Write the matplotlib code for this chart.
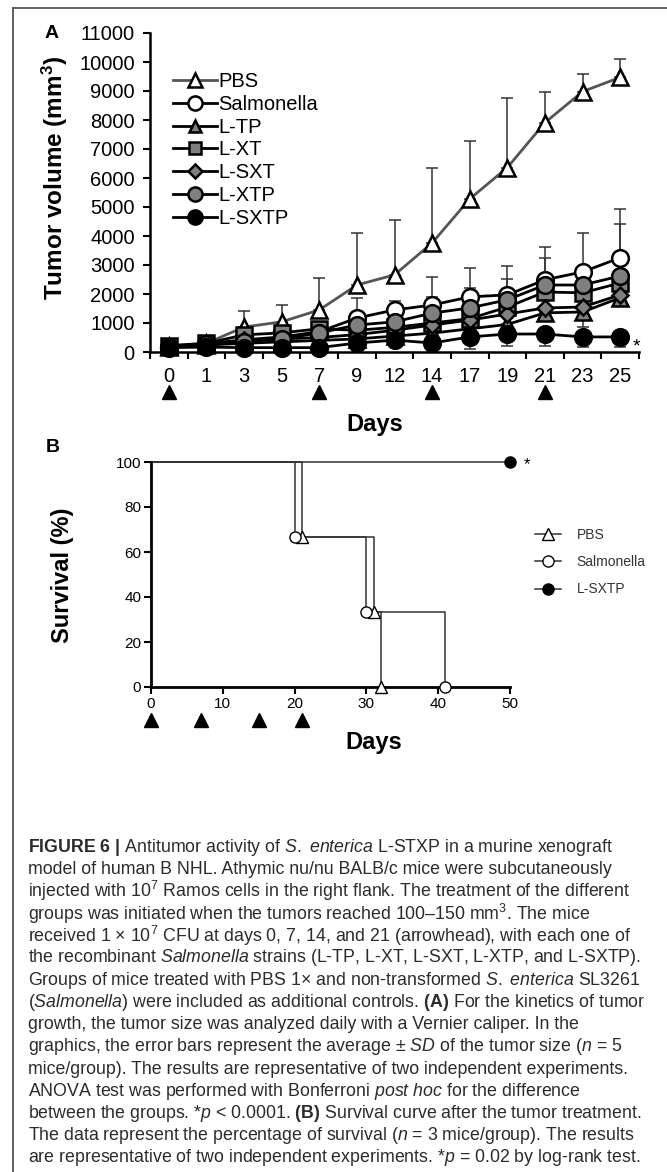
import numpy as np
import matplotlib
matplotlib.use("Agg")
import matplotlib.pyplot as plt
from matplotlib import font_manager
from matplotlib.lines import Line2D
import matplotlib.transforms as mtransforms

# fonts
names = {f.name for f in font_manager.fontManager.ttflist}
SANS = "Liberation Sans"
NARROW = "Liberation Sans Narrow" if "Liberation Sans Narrow" in names else "Liberation Sans"
plt.rcParams["font.family"] = [SANS, "DejaVu Sans"]
plt.rcParams["mathtext.fontset"] = "custom"
plt.rcParams["mathtext.rm"] = NARROW
plt.rcParams["mathtext.it"] = NARROW + ":italic"
plt.rcParams["mathtext.bf"] = NARROW + ":bold"

# ---------------------------------------------------------------------------
# Panel A data: tumor volume (mm3)
days = [0, 1, 3, 5, 7, 9, 12, 14, 17, 19, 21, 23, 25]
treat_days = [0, 7, 14, 21]

pbs = [200, 300, 860, 1040, 1450, 2310, 2660, 3760, 5280, 6360, 7910, 8980, 9470]
pbs_sd = [60, 80, 560, 580, 1110, 1800, 1900, 2600, 2010, 2410, 1070, 590, 620]
salm = [180, 290, 420, 520, 700, 1170, 1450, 1620, 1900, 1970, 2490, 2760, 3250]
salm_sd = [50, 80, 200, 250, 300, 700, 300, 970, 1000, 1000, 1130, 1350, 1690]
ltp = [170, 240, 300, 350, 400, 450, 550, 650, 800, 950, 1350, 1380, 1870]
ltp_sd = [40, 60, 100, 100, 120, 150, 150, 200, 200, 250, 250, 520, 210]
lxt = [220, 300, 590, 660, 800, 750, 850, 1000, 1150, 1550, 2070, 2040, 2380]
lxt_sd = [50, 80, 150, 150, 200, 200, 250, 300, 300, 350, 400, 400, 450]
lsxt = [180, 260, 400, 450, 500, 600, 750, 930, 1100, 1310, 1520, 1550, 1970]
lsxt_sd = [40, 60, 100, 100, 150, 150, 200, 250, 250, 300, 300, 300, 350]
lxtp = [170, 280, 350, 450, 660, 930, 1040, 1340, 1520, 1800, 2310, 2310, 2620]
lxtp_sd = [40, 60, 100, 120, 150, 250, 300, 560, 690, 720, 940, 300, 1800]
lsxtp = [150, 170, 150, 150, 150, 310, 410, 310, 520, 620, 620, 520, 520]
lsxtp_sd = [30, 40, 40, 40, 50, 100, 150, 150, 420, 420, 420, 350, 350]

# Panel B data: survival (%)
pbs_t = [0, 21, 31, 32]
pbs_s = [100, 66.7, 33.3, 0]
salm_t = [0, 20, 30, 41]
salm_s = [100, 66.7, 33.3, 0]
sxtp_t = [0, 50]
sxtp_s = [100, 100]
treat_days_b = [0, 7, 15, 21]

# ---------------------------------------------------------------------------
W, H = 667, 1172
fig = plt.figure(figsize=(W / 100, H / 100), dpi=100)

def fx(px):
    return px / W

def fy(py):
    return 1 - py / H

# outer frame (top and left rule)
fig.add_artist(Line2D([fx(13), 1], [fy(8), fy(8)], color="#555555", lw=1.3))
fig.add_artist(Line2D([fx(13), fx(13)], [fy(8), 0], color="#555555", lw=1.3))

# ---------------------------------------------------------------------------
# Panel A
axA = fig.add_axes([fx(150), fy(352), fx(639 - 150), (352 - 33) / H])
x = np.arange(len(days))

series = [
    ("PBS", pbs, pbs_sd, "^", "white", 12, "#555555", "up"),
    ("Salmonella", salm, salm_sd, "o", "white", 12, "black", "up"),
    ("L-TP", ltp, ltp_sd, "^", "#7f7f7f", 11, "black", "down"),
    ("L-XT", lxt, lxt_sd, "s", "#7f7f7f", 11, "black", "up"),
    ("L-SXT", lsxt, lsxt_sd, "D", "#7f7f7f", 8.5, "black", "up"),
    ("L-XTP", lxtp, lxtp_sd, "o", "#7f7f7f", 12, "black", "up"),
    ("L-SXTP", lsxtp, lsxtp_sd, "o", "black", 12, "black", "down"),
]

handles = []
for i, (lab, y, sd, mk, fc, ms, lc, side) in enumerate(series):
    y = np.array(y, float)
    sd = np.array(sd, float)
    if side == "up":
        err = [np.zeros_like(sd), sd]
    else:
        err = [sd, np.zeros_like(sd)]
    axA.errorbar(x, y, yerr=err, fmt="none", ecolor="#333333", elinewidth=1.1,
                 capsize=4.5, capthick=1.1, zorder=2 + i * 0.1, clip_on=False)
    ln, = axA.plot(x, y, color=lc, lw=2.0, marker=mk, ms=ms, mfc=fc,
                   mec="black", mew=1.8, zorder=3 + i * 0.1, clip_on=False,
                   label=lab)
    handles.append(ln)

axA.annotate("*", xy=(x[-1], lsxtp[-1]), xytext=(9, -7), textcoords="offset points",
             fontsize=14, ha="left", va="center", annotation_clip=False)

axA.set_xlim(-0.5, len(days) - 0.5)
axA.set_ylim(0, 11000)
axA.set_yticks(np.arange(0, 11001, 1000))
axA.set_xticks(x)
axA.set_xticklabels([str(d) for d in days])
axA.set_xticks(np.arange(-0.5, len(days)), minor=True)
axA.tick_params(axis="x", which="major", length=0, pad=11, labelsize=14.5)
axA.tick_params(axis="x", which="minor", length=5, width=1.5)
axA.tick_params(axis="y", length=5, width=1.5, pad=6, labelsize=14.5)
for s in ["top", "right"]:
    axA.spines[s].set_visible(False)
for s in ["left", "bottom"]:
    axA.spines[s].set_linewidth(1.8)

# treatment arrowheads
trA = mtransforms.blended_transform_factory(axA.transData, axA.transAxes)
axA.plot([days.index(d) for d in treat_days], [-0.125] * len(treat_days), "^",
         color="black", ms=10, transform=trA, clip_on=False)

leg = axA.legend(handles=handles, loc="upper left",
                 bbox_to_anchor=(fx(173), fy(72)), bbox_transform=fig.transFigure,
                 frameon=False, fontsize=14.5, handlelength=2.2, handletextpad=0.05,
                 labelspacing=0.19, borderpad=0, borderaxespad=0, markerscale=0.85)

fig.text(fx(52), fy(34), "A", fontsize=14, fontweight="bold", ha="center", va="center")
fig.text(fx(55), fy(178), "Tumor volume (mm$^\\mathbf{3}$)", fontsize=17.5,
         fontweight="bold", rotation=90, ha="center", va="center")
fig.text(fx(375), fy(425), "Days", fontsize=17, fontweight="bold", ha="center", va="center")

# ---------------------------------------------------------------------------
# Panel B
axB = fig.add_axes([fx(151), fy(687), fx(510 - 151), (687 - 462) / H])
lc_b = "#333333"
hb = []
for lab, t, s, mk, fc in [("PBS", pbs_t, pbs_s, "^", "white"),
                          ("Salmonella", salm_t, salm_s, "o", "white"),
                          ("L-SXTP", sxtp_t, sxtp_s, "o", "black")]:
    axB.step(t, s, where="post", color=lc_b, lw=1.1, zorder=2, clip_on=False)
    axB.plot(t[1:], s[1:], linestyle="none", marker=mk, mfc=fc, mec="black",
             mew=1.0, ms=8, zorder=3, clip_on=False)
    hb.append(Line2D([], [], color=lc_b, lw=1.1, marker=mk, mfc=fc, mec="black",
                     mew=1.0, ms=8, label=lab))

axB.annotate("*", xy=(sxtp_t[-1], sxtp_s[-1]), xytext=(10, -2), textcoords="offset points",
             fontsize=12, ha="left", va="center", annotation_clip=False)

axB.set_xlim(0, 50)
axB.set_ylim(0, 100)
axB.set_xticks(np.arange(0, 51, 10))
axB.set_yticks(np.arange(0, 101, 20))
axB.tick_params(length=5, width=1.5, labelsize=11, pad=2)
for s in ["top", "right"]:
    axB.spines[s].set_visible(False)
for s in ["left", "bottom"]:
    axB.spines[s].set_linewidth(2)

trB = mtransforms.blended_transform_factory(axB.transData, axB.transAxes)
axB.plot(treat_days_b, [-0.147] * len(treat_days_b), "^", color="black", ms=10,
         transform=trB, clip_on=False)

axB.legend(handles=hb, loc="upper left", bbox_to_anchor=(fx(535), fy(528)),
           bbox_transform=fig.transFigure, frameon=False, fontsize=10,
           handlelength=1.9, handletextpad=1.1, labelspacing=0.95,
           borderpad=0, borderaxespad=0, labelcolor="#333333")

fig.text(fx(53), fy(447), "B", fontsize=14, fontweight="bold", ha="center", va="center")
fig.text(fx(62), fy(575), "Survival (%)", fontsize=17, fontweight="bold",
         rotation=90, ha="center", va="center")
fig.text(fx(374), fy(742), "Days", fontsize=17, fontweight="bold", ha="center", va="center")

# ---------------------------------------------------------------------------
# caption
caption = [
    r"$\mathbf{FIGURE\ 6\ |}$ Antitumor activity of $\mathit{S.\ enterica}$ L-STXP in a murine xenograft",
    r"model of human B NHL. Athymic nu/nu BALB/c mice were subcutaneously",
    r"injected with 10$^7$ Ramos cells in the right flank. The treatment of the different",
    r"groups was initiated when the tumors reached 100–150 mm$^3$. The mice",
    r"received 1 × 10$^7$ CFU at days 0, 7, 14, and 21 (arrowhead), with each one of",
    r"the recombinant $\mathit{Salmonella}$ strains (L-TP, L-XT, L-SXT, L-XTP, and L-SXTP).",
    r"Groups of mice treated with PBS 1× and non-transformed $\mathit{S.\ enterica}$ SL3261",
    r"($\mathit{Salmonella}$) were included as additional controls. $\mathbf{(A)}$ For the kinetics of tumor",
    r"growth, the tumor size was analyzed daily with a Vernier caliper. In the",
    r"graphics, the error bars represent the average ± $\mathit{SD}$ of the tumor size ($\mathit{n}$ = 5",
    r"mice/group). The results are representative of two independent experiments.",
    r"ANOVA test was performed with Bonferroni $\mathit{post\ hoc}$ for the difference",
    r"between the groups. *$\mathit{p}$ < 0.0001. $\mathbf{(B)}$ Survival curve after the tumor treatment.",
    r"The data represent the percentage of survival ($\mathit{n}$ = 3 mice/group). The results",
    r"are representative of two independent experiments. *$\mathit{p}$ = 0.02 by log-rank test.",
]
y0 = 847
for k, line in enumerate(caption):
    fig.text(fx(28), fy(y0 + k * 22.2), line, family=NARROW, fontsize=12.8,
             color="#2b2b2b", ha="left", va="center")

fig.savefig("out.png", dpi=100)
